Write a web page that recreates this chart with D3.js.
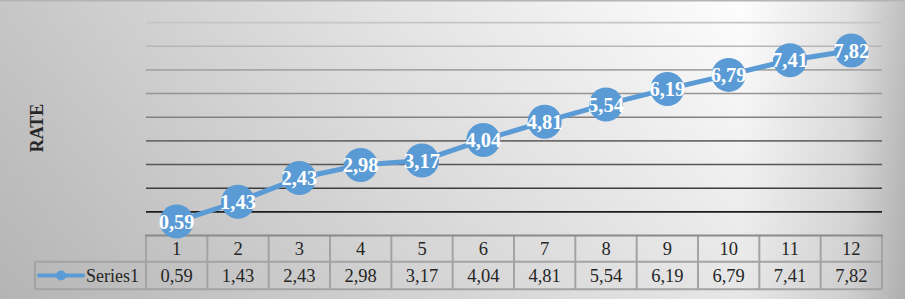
<!DOCTYPE html>
<html>
<head>
<meta charset="utf-8">
<script src="https://cdn.jsdelivr.net/npm/d3@7"></script>
<style>
  html, body { margin: 0; padding: 0; background: #fff; }
  svg { display: block; font-family: "Liberation Serif", "Times New Roman", serif; }
</style>
</head>
<body>
<svg id="chart" width="905" height="299"></svg>
<script>
// chart data
const categories = ["1", "2", "3", "4", "5", "6", "7", "8", "9", "10", "11", "12"];
const seriesName = "Series1";
const rates = [0.59, 1.43, 2.43, 2.98, 3.17, 4.04, 4.81, 5.54, 6.19, 6.79, 7.41, 7.82];
const yTicks = [1, 2, 3, 4, 5, 6, 7, 8, 9];
const yTitle = "RATE";

const W = 905, H = 299;
const plot = { left: 146, right: 882, top: 22.6, bottom: 235.5 };
const table = { row1: 261.7, row2: 289.3, legendLeft: 35 };
const BLUE = "#5b9bd5";

const fmt = (v) => v.toFixed(2).replace(".", ",");

const svg = d3.select("#chart");
const defs = svg.append("defs");

// background gradients
const hGrad = defs.append("linearGradient").attr("id", "bgH")
  .attr("x1", 0).attr("x2", 1).attr("y1", 0).attr("y2", 0);
[[0, "#c6c6c6"], [0.45, "#e6e6e6"], [0.82, "#fdfdfd"], [0.94, "#e2e2e2"], [1, "#c0c0c0"]]
  .forEach(([o, c]) => hGrad.append("stop").attr("offset", o).attr("stop-color", c));

const vGrad = defs.append("linearGradient").attr("id", "bgV")
  .attr("x1", 0).attr("x2", 0).attr("y1", 0).attr("y2", 1);
vGrad.append("stop").attr("offset", 0).attr("stop-color", "#000").attr("stop-opacity", 0);
vGrad.append("stop").attr("offset", 1).attr("stop-color", "#000").attr("stop-opacity", 0.09);

svg.append("rect").attr("width", W).attr("height", H).attr("fill", "url(#bgH)");
svg.append("rect").attr("width", W).attr("height", H).attr("fill", "url(#bgV)");
svg.append("line").attr("x1", 0).attr("x2", W).attr("y1", 0.75).attr("y2", 0.75)
  .attr("stroke", "#b4b4b4").attr("stroke-width", 1.5);

// scales
const x = d3.scaleBand().domain(categories).range([plot.left, plot.right]);
const y = d3.scaleLinear().domain([0, 9]).range([plot.bottom, plot.top]);
const gridColor = d3.scalePow().exponent(0.6).domain([1, 9])
  .range(["#1c1c1c", "#c6c6c6"]).interpolate(d3.interpolateRgb);

// gridlines
svg.append("g").attr("class", "grid")
  .selectAll("line").data(yTicks).enter().append("line")
  .attr("x1", plot.left).attr("x2", plot.right)
  .attr("y1", (d) => y(d)).attr("y2", (d) => y(d))
  .attr("stroke", (d) => gridColor(d)).attr("stroke-width", 1.6);

// y axis title
svg.append("text")
  .attr("transform", `translate(43,128) rotate(-90)`)
  .attr("text-anchor", "middle")
  .attr("font-weight", "bold").attr("font-size", 18).attr("fill", "#262626")
  .text(yTitle);

// data table
const tbl = svg.append("g").attr("class", "data-table")
  .attr("stroke", "#a3a3a3").attr("stroke-width", 2).attr("fill", "none");

tbl.append("line").attr("x1", plot.left).attr("x2", plot.right)
  .attr("y1", table.row1).attr("y2", table.row1);
tbl.append("line").attr("x1", table.legendLeft).attr("x2", plot.right)
  .attr("y1", table.row2).attr("y2", table.row2);
tbl.append("line").attr("x1", table.legendLeft).attr("x2", plot.left)
  .attr("y1", table.row1).attr("y2", table.row1);
tbl.append("line").attr("x1", table.legendLeft).attr("x2", table.legendLeft)
  .attr("y1", table.row1).attr("y2", table.row2);

const edges = categories.map((c) => x(c)).concat([plot.right]);
tbl.selectAll("line.col").data(edges).enter().append("line").attr("class", "col")
  .attr("x1", (d) => d).attr("x2", (d) => d)
  .attr("y1", plot.bottom).attr("y2", table.row2);

// axis line on top of the table
svg.append("line").attr("x1", plot.left - 1).attr("x2", plot.right + 1)
  .attr("y1", plot.bottom).attr("y2", plot.bottom)
  .attr("stroke", "#8a8a8a").attr("stroke-width", 2.2);

const cellText = svg.append("g").attr("font-size", 18.5).attr("fill", "#262626")
  .attr("text-anchor", "middle");

cellText.selectAll("text.cat").data(categories).enter().append("text").attr("class", "cat")
  .attr("x", (d) => x(d) + x.bandwidth() / 2)
  .attr("y", (plot.bottom + table.row1) / 2 + 6)
  .text((d) => d);

cellText.selectAll("text.val").data(rates).enter().append("text").attr("class", "val")
  .attr("x", (d, i) => x(categories[i]) + x.bandwidth() / 2)
  .attr("y", (table.row1 + table.row2) / 2 + 6)
  .text((d) => fmt(d));

// legend key in the table
const lg = svg.append("g").attr("class", "legend-key");
lg.append("line").attr("x1", 39).attr("x2", 83)
  .attr("y1", 275.5).attr("y2", 275.5)
  .attr("stroke", BLUE).attr("stroke-width", 4).attr("stroke-linecap", "round");
lg.append("circle").attr("cx", 61).attr("cy", 275.5).attr("r", 5).attr("fill", BLUE);
lg.append("text").attr("x", 86).attr("y", 281.5)
  .attr("font-size", 18).attr("fill", "#262626").text(seriesName);

// series line + markers
const px = (d, i) => x(categories[i]) + x.bandwidth() / 2;
const line = d3.line().x(px).y((d) => y(d));

svg.append("path").datum(rates)
  .attr("d", line).attr("fill", "none")
  .attr("stroke", BLUE).attr("stroke-width", 5).attr("stroke-linejoin", "round");

const pts = svg.append("g").selectAll("g.pt").data(rates).enter().append("g")
  .attr("class", "pt")
  .attr("transform", (d, i) => `translate(${px(d, i)},${y(d)})`);

pts.append("circle").attr("r", 17).attr("fill", BLUE);
pts.append("text")
  .attr("text-anchor", "middle").attr("dy", 7.2)
  .attr("font-weight", "bold").attr("font-size", 20.5).attr("fill", "#fff")
  .text((d) => fmt(d));
</script>
</body>
</html>
